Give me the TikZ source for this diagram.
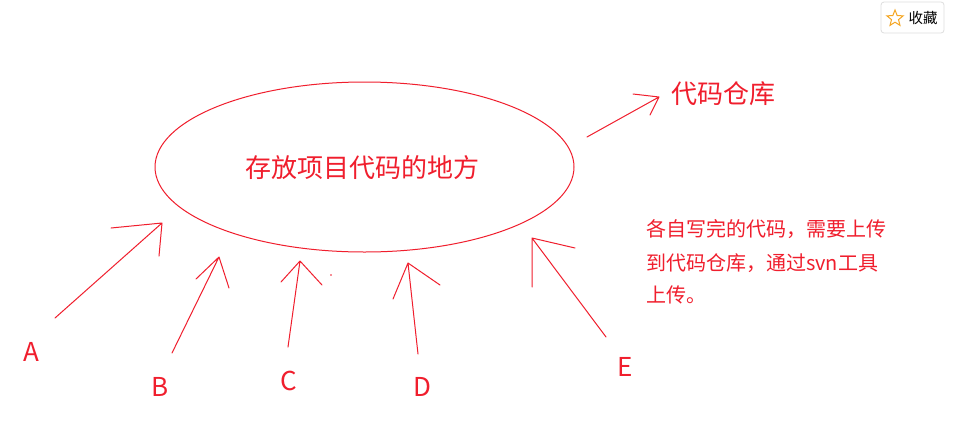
\documentclass[tikz,border=0pt]{standalone}
\usepackage{fontspec}
\setmainfont{Noto Sans CJK SC}
\usetikzlibrary{shapes.geometric}
\definecolor{pen}{RGB}{240,30,45}
\definecolor{starc}{RGB}{245,166,35}
\begin{document}
\begin{tikzpicture}[x=1pt,y=-1pt,
  penline/.style={draw=pen, line width=1pt, line cap=round, line join=round},
  lbl/.style={text=pen, font=\fontsize{26}{26}\selectfont, inner sep=0pt},
  para/.style={text=pen, font=\fontsize{20}{20}\selectfont, inner sep=0pt, anchor=west}]
\fill[white] (0,0) rectangle (966,445);
\useasboundingbox (0,0) rectangle (966,445);

% main ellipse
\node[ellipse, penline, minimum width=419pt, minimum height=170pt, inner sep=0pt] (store) at (364.5,167) {};
\node[lbl] (storetext) at (362.5,168) {存放项目代码的地方};

% repository
\node[lbl] (repo) at (723,94) {代码仓库};
\coordinate (rt) at (587,137);
\coordinate (rh) at (659,97);
\coordinate (rh1) at (633,94);
\coordinate (rh2) at (650,115);
\draw[penline] (rt) -- (rh) (rh1) -- (rh) -- (rh2);

% labels
\node[lbl] (A) at (31,352) {A};
\node[lbl] (B) at (160,387) {B};
\node[lbl] (C) at (289,381) {C};
\node[lbl] (D) at (422,387) {D};
\node[lbl] (E) at (625,367) {E};

% arrow A
\coordinate (at) at (55,318);
\coordinate (ah) at (162,223);
\coordinate (ah1) at (111,228);
\coordinate (ah2) at (159,256);
\draw[penline] (at) -- (ah) (ah1) -- (ah) -- (ah2);
% arrow B
\coordinate (bt) at (172,353);
\coordinate (bh) at (219,257);
\coordinate (bh1) at (196,279);
\coordinate (bh2) at (229,288);
\draw[penline] (bt) -- (bh) (bh1) -- (bh) -- (bh2);
% arrow C
\coordinate (ct) at (288,347);
\coordinate (ch) at (300,261);
\coordinate (ch1) at (281,282);
\coordinate (ch2) at (322,285);
\draw[penline] (ct) -- (ch) (ch1) -- (ch) -- (ch2);
\coordinate (cdot) at (331,275);
\fill[pen] (cdot) circle (0.8pt);
% arrow D
\coordinate (dt) at (418,354);
\coordinate (dh) at (408,263);
\coordinate (dh1) at (393,299);
\coordinate (dh2) at (440,285);
\draw[penline] (dt) -- (dh) (dh1) -- (dh) -- (dh2);
% arrow E
\coordinate (et) at (606,337);
\coordinate (eh) at (532,238);
\coordinate (eh1) at (532,287);
\coordinate (eh2) at (575,248);
\draw[penline] (et) -- (eh) (eh1) -- (eh) -- (eh2);

% explanation
\node[para] (p1) at (646,229) {各自写完的代码，需要上传};
\node[para] (p2) at (646,263) {到代码仓库，通过svn工具};
\node[para] (p3) at (646,295) {上传。};

% favourite button
\node[draw=black!13, line width=0.8pt, rounded corners=3pt, minimum width=63pt, minimum height=31pt, inner sep=0pt] (fav) at (912.5,17.5) {};
\node[star, star points=5, star point ratio=2.3, draw=starc, line width=1pt, minimum size=17pt, inner sep=0pt] (favstar) at (895,18.5) {};
\node[text=black, font=\fontsize{14.5}{15}\selectfont, inner sep=0pt] (favtext) at (923,18) {收藏};
\end{tikzpicture}
\end{document}
